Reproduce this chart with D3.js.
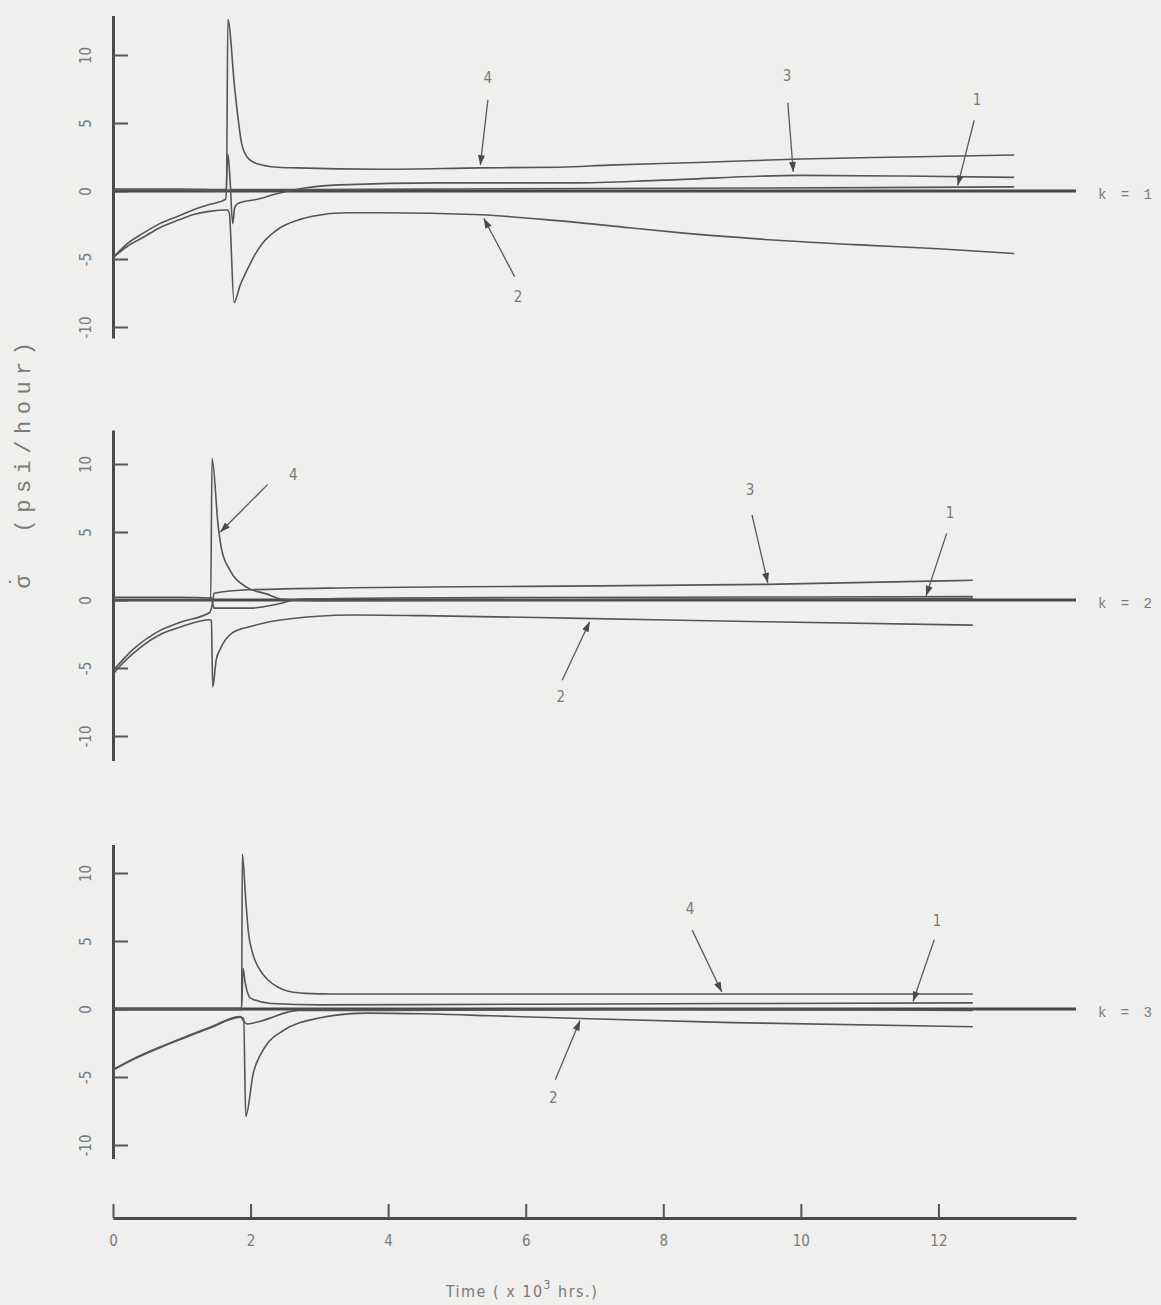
<!DOCTYPE html>
<html>
<head>
<meta charset="utf-8">
<script src="https://cdnjs.cloudflare.com/ajax/libs/d3/7.8.5/d3.min.js"></script>
<style>
  body { margin: 0; background: #efefed; }
  svg { display: block; }
  .tick text, .lbl { fill: #7a7a7a; font-family: "DejaVu Sans Condensed", "DejaVu Sans", sans-serif; font-stretch: condensed; }
  .mono { fill: #7a7a7a; font-family: "Liberation Mono", "DejaVu Sans Mono", monospace; }
</style>
</head>
<body>
<div id="chart"></div>
<script>
// x ticks (x 10^3 hrs) and y ticks (psi/hour)
var X_TICKS = [0, 2, 4, 6, 8, 10, 12];
var Y_TICKS = [-10, -5, 0, 5, 10];
var K_LABELS = ['k = 1', 'k = 2', 'k = 3'];
var K_REF = [0, 0, 0];            // level of the k reference line
var K_REF_END = 14;

// ---- k = 1 ----  [time, stress rate]
var k1c1 = [[0,0.05],[1.0,0.05],[1.65,0.0],[1.72,0.1],[2.5,0.1],[5,0.15],[8,0.2],[11,0.25],[13.1,0.3]];
var k1c2 = [[0,-4.9],[0.2,-4.1],[0.44,-3.4],[0.68,-2.7],[0.97,-2.1],[1.16,-1.75],[1.4,-1.5],[1.66,-1.4],[1.69,-1.6],
            [1.76,-8.2],[1.85,-6.9],[1.95,-5.8],[2.05,-4.8],[2.18,-3.8],[2.3,-3.2],[2.43,-2.7],[2.65,-2.2],[2.9,-1.85],
            [3.4,-1.6],[3.9,-1.6],[5.35,-1.75],[6.5,-2.2],[7.5,-2.7],[8.3,-3.1],[9.6,-3.6],[11,-4.0],[12,-4.25],[13.1,-4.6]];
var k1c3 = [[0,-4.9],[0.2,-3.9],[0.44,-3.1],[0.68,-2.4],[0.97,-1.8],[1.16,-1.4],[1.4,-1.0],[1.64,-0.6],[1.67,2.7],
            [1.7,1.0],[1.74,-2.4],[1.77,-1.2],[1.82,-0.9],[2.1,-0.6],[2.38,-0.2],[2.76,0.2],[3.3,0.45],[4.75,0.6],
            [6.7,0.6],[8,0.8],[10,1.15],[11.5,1.1],[13.1,1.0]];
var k1c4 = [[0,0.15],[1.0,0.15],[1.65,0.1],[1.67,12.6],[1.77,7.5],[1.87,3.5],[1.95,2.5],[2.05,2.1],[2.18,1.9],[2.4,1.75],
            [2.67,1.7],[3.9,1.6],[5.35,1.7],[6.5,1.75],[7.2,1.9],[8.5,2.1],[10,2.35],[11.5,2.5],[13.1,2.65]];

// ---- k = 2 ----
var k2c1 = [[0,0.2],[1.0,0.2],[1.43,0.15],[1.47,-0.6],[2.0,-0.6],[2.4,-0.3],[2.7,0.05],[4,0.15],[8,0.2],[12.5,0.25]];
var k2c2 = [[0,-5.5],[0.06,-5.1],[0.3,-3.9],[0.68,-2.55],[1.0,-1.95],[1.41,-1.45],[1.43,-1.5],[1.45,-6.4],[1.5,-4.4],
            [1.56,-3.6],[1.74,-2.4],[2.0,-1.95],[2.23,-1.65],[2.97,-1.2],[3.5,-1.1],[4.5,-1.15],[6.8,-1.35],[9.5,-1.6],[12.5,-1.85]];
var k2c3 = [[0,-5.2],[0.3,-3.6],[0.68,-2.25],[1.0,-1.6],[1.41,-0.9],[1.44,-0.4],[1.47,0.5],[2.0,0.75],[3.45,0.9],
            [6,1.0],[9.5,1.15],[12.5,1.45]];
var k2c4 = [[0,0.0],[1.0,0.0],[1.42,0.0],[1.44,10.4],[1.53,5.4],[1.58,3.7],[1.7,2.2],[1.94,0.95],[2.23,0.45],[2.46,0.05],
            [3,-0.05],[8,0.05],[12.5,0.1]];

// ---- k = 3 ----
var k3c1 = [[0,0.05],[1.87,0.05],[1.89,3.0],[1.92,2.0],[2.0,0.8],[2.3,0.4],[3,0.3],[6,0.35],[9,0.4],[12.5,0.45]];
var k3c2 = [[0,-4.5],[0.3,-3.7],[0.68,-2.85],[1.0,-2.2],[1.41,-1.4],[1.85,-0.6],[1.9,-0.7],[1.93,-7.9],[2.04,-4.7],
            [2.15,-3.3],[2.25,-2.5],[2.47,-1.6],[2.96,-0.7],[3.7,-0.3],[4.5,-0.35],[5.5,-0.5],[6.8,-0.7],[9,-1.0],[12.5,-1.3]];
var k3c3 = [[0,-4.45],[0.3,-3.65],[0.68,-2.8],[1.0,-2.15],[1.41,-1.35],[1.85,-0.55],[1.9,-0.9],[1.95,-1.1],[2.1,-0.95],
            [2.7,-0.1],[4,-0.1],[8,-0.05],[12.5,-0.1]];
var k3c4 = [[0,-0.05],[1.87,-0.05],[1.88,11.4],[1.93,8.0],[1.97,5.6],[2.03,4.1],[2.12,3.0],[2.25,2.15],[2.4,1.6],
            [2.55,1.3],[2.8,1.15],[3.2,1.1],[5,1.1],[9,1.1],[12.5,1.1]];

// curve callouts: text, label point, arrow tail, arrow tip (data units)
var k1Notes = [
  ['4', [5.45, 8.3], [5.45, 6.7], [5.34, 1.9]],
  ['3', [9.8, 8.5], [9.81, 6.5], [9.89, 1.4]],
  ['1', [12.56, 6.7], [12.52, 5.2], [12.28, 0.4]],
  ['2', [5.89, -7.8], [5.84, -6.3], [5.39, -2.0]]
];
var k2Notes = [
  ['4', [2.62, 9.2], [2.25, 8.5], [1.56, 5.0]],
  ['3', [9.26, 8.1], [9.29, 6.25], [9.52, 1.25]],
  ['1', [12.17, 6.4], [12.12, 4.9], [11.82, 0.3]],
  ['2', [6.51, -7.1], [6.53, -5.9], [6.93, -1.6]]
];
var k3Notes = [
  ['4', [8.39, 7.4], [8.42, 5.8], [8.85, 1.25]],
  ['1', [11.98, 6.5], [11.94, 5.1], [11.63, 0.55]],
  ['2', [6.4, -6.5], [6.43, -5.2], [6.79, -0.85]]
];

var panels = [
  {curves: [k1c1, k1c2, k1c3, k1c4], notes: k1Notes},
  {curves: [k2c1, k2c2, k2c3, k2c4], notes: k2Notes},
  {curves: [k3c1, k3c2, k3c3, k3c4], notes: k3Notes}
];

// layout
var W = 1161, H = 1305;
var zeroY = [191, 600, 1009];
var yExtent = [[-10.8, 12.9], [-11.8, 12.5], [-11, 12.1]];
var unit = 13.6;
var ink = '#555';

var svg = d3.select('#chart').append('svg')
    .attr('width', W)
    .attr('height', H);

svg.append('rect').attr('width', W).attr('height', H).attr('fill', '#efefed');

svg.append('defs').append('marker')
    .attr('id', 'head')
    .attr('viewBox', '0 0 10 7')
    .attr('refX', 10).attr('refY', 3.5)
    .attr('markerUnits', 'userSpaceOnUse')
    .attr('markerWidth', 11).attr('markerHeight', 7)
    .attr('orient', 'auto')
  .append('path')
    .attr('d', 'M0,0L10,3.5L0,7Z')
    .attr('fill', '#4a4a4a');

var x = d3.scaleLinear().domain([0, 14]).range([113, 1076]);

panels.forEach(function(p, i) {
  var y = d3.scaleLinear()
      .domain(yExtent[i])
      .range([zeroY[i] - yExtent[i][0] * unit, zeroY[i] - yExtent[i][1] * unit]);

  var lineY = d3.line()
      .x(function(d) { return x(d[0]); })
      .y(function(d) { return y(d[1]); })
      .curve(d3.curveMonotoneX);

  var g = svg.append('g');

  // y axis, ticks pointing right, labels rotated on the left
  var ax = g.append('g')
      .attr('transform', 'translate(' + x(0) + ',0)')
      .call(d3.axisLeft(y).tickValues(Y_TICKS).tickSizeInner(-15).tickSizeOuter(0)
            .tickFormat(function(d) { return String(d); }));
  ax.select('.domain').attr('stroke', '#4a4a4a').attr('stroke-width', 3);
  ax.selectAll('.tick line').attr('stroke', '#555').attr('stroke-width', 2);
  ax.selectAll('.tick text')
      .attr('x', 0).attr('y', 0).attr('dy', '0.35em')
      .attr('transform', 'translate(-27,0) rotate(-90)')
      .attr('text-anchor', 'middle')
      .style('font-size', '15px');

  // k reference line
  g.append('path')
      .datum([[0, K_REF[i]], [K_REF_END, K_REF[i]]])
      .attr('d', lineY)
      .attr('fill', 'none')
      .attr('stroke', '#484848')
      .attr('stroke-width', 3);

  g.append('text')
      .attr('class', 'mono')
      .attr('x', x(K_REF_END) + 22)
      .attr('y', y(K_REF[i]))
      .attr('dy', '0.55em')
      .style('font-size', '14px')
      .style('letter-spacing', '3px')
      .text(K_LABELS[i]);

  // curves
  g.selectAll('.curve')
      .data(p.curves)
      .enter()
      .append('path')
        .attr('class', 'curve')
        .attr('d', lineY)
        .attr('fill', 'none')
        .attr('stroke', ink)
        .attr('stroke-width', 1.6)
        .attr('stroke-linejoin', 'round');

  // callouts
  p.notes.forEach(function(n) {
    g.append('line')
        .attr('x1', x(n[2][0])).attr('y1', y(n[2][1]))
        .attr('x2', x(n[3][0])).attr('y2', y(n[3][1]))
        .attr('stroke', '#5a5a5a')
        .attr('stroke-width', 1.3)
        .attr('marker-end', 'url(#head)');
    g.append('text')
        .attr('class', 'lbl')
        .attr('x', x(n[1][0])).attr('y', y(n[1][1]))
        .attr('dy', '0.35em')
        .attr('text-anchor', 'middle')
        .style('font-size', '15px')
        .text(n[0]);
  });
});

// y title: sigma with a dot above, then the unit
svg.append('text')
    .attr('class', 'mono')
    .attr('transform', 'translate(30,582) rotate(-90)')
    .attr('text-anchor', 'middle')
    .style('font-size', '22px')
    .text('\u03C3');
svg.append('text')
    .attr('class', 'mono')
    .attr('transform', 'translate(30,582) rotate(-90)')
    .attr('text-anchor', 'middle')
    .attr('dy', '-0.25em')
    .style('font-size', '22px')
    .text('\u02D9');
svg.append('text')
    .attr('class', 'mono')
    .attr('transform', 'translate(30,434) rotate(-90)')
    .attr('text-anchor', 'middle')
    .style('font-size', '22px')
    .style('letter-spacing', '6.5px')
    .text('(psi/hour)');

// time axis
var xa = svg.append('g')
    .attr('transform', 'translate(0,1218)')
    .call(d3.axisBottom(x).tickValues(X_TICKS).tickSizeInner(-14).tickSizeOuter(0).tickPadding(28));
xa.select('.domain').attr('stroke', '#4a4a4a').attr('stroke-width', 3);
xa.selectAll('.tick line').attr('stroke', '#555').attr('stroke-width', 2);
xa.selectAll('.tick text').attr('dy', 0).style('font-size', '15px');

var xt = svg.append('text')
    .attr('class', 'lbl')
    .attr('x', 522).attr('y', 1297)
    .attr('text-anchor', 'middle')
    .style('font-size', '16px')
    .style('letter-spacing', '1.5px');
xt.append('tspan').text('Time ( x 10');
xt.append('tspan').attr('dy', -8).style('font-size', '12px').text('3');
xt.append('tspan').attr('dy', 8).text(' hrs.)');
</script>
</body>
</html>
